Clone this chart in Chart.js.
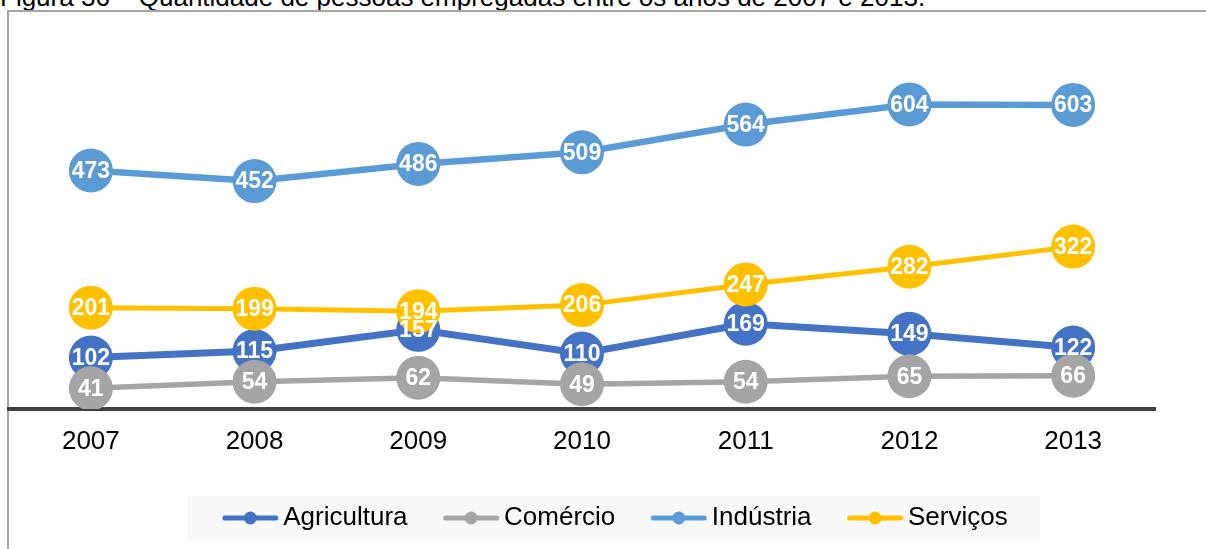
<!DOCTYPE html>
<html>
<head>
<meta charset="utf-8">
<script src="https://cdn.jsdelivr.net/npm/chart.js@4.4.0/dist/chart.umd.min.js"></script>
<style>
  html, body { margin: 0; padding: 0; background: #fff; overflow: hidden; }
  body { width: 1206px; height: 549px; position: relative; font-family: "Liberation Sans", Arial, sans-serif; }
  .caption { position: absolute; left: 0; top: -16px; font-size: 26px; line-height: 26px; color: #000; white-space: nowrap; }
  .frame { position: absolute; left: 7px; top: 10px; width: 1300px; height: 700px; border: 2px solid #a6a6a6; }
  #wrap { position: absolute; left: 0; top: 0; width: 1206px; height: 549px; }
</style>
</head>
<body>
<div class="caption">Figura 36 – Quantidade de pessoas empregadas entre os anos de 2007 e 2013.</div>
<div class="frame"></div>
<div id="wrap"><canvas id="lineChart" width="1206" height="549"></canvas></div>
<script>
// Pessoas empregadas por setor
const years = ['2007', '2008', '2009', '2010', '2011', '2012', '2013'];
const agricultura = [102, 115, 157, 110, 169, 149, 122];
const comercio = [41, 54, 62, 49, 54, 65, 66];
const industria = [473, 452, 486, 509, 564, 604, 603];
const servicos = [201, 199, 194, 206, 247, 282, 322];

const FONT = '"Liberation Sans", Arial, sans-serif';

// legend marker: short line with a dot in the middle
function legendMarker(color, lw) {
  const c = document.createElement('canvas');
  c.width = 57; c.height = 16;
  const g = c.getContext('2d');
  g.strokeStyle = color;
  g.lineWidth = lw;
  g.lineCap = 'round';
  g.beginPath();
  g.moveTo(3, 8); g.lineTo(54, 8);
  g.stroke();
  g.fillStyle = color;
  g.beginPath();
  g.arc(28.5, 8, 6.5, 0, Math.PI * 2);
  g.fill();
  return c;
}

function series(label, data, color, lw, order) {
  return {
    label: label,
    data: data,
    borderColor: color,
    backgroundColor: color,
    borderWidth: lw,
    pointStyle: 'circle',
    pointRadius: 22,
    pointHoverRadius: 22,
    pointBorderWidth: 0,
    pointBackgroundColor: color,
    tension: 0,
    order: order
  };
}

// white value inside each marker
const pointLabels = {
  id: 'pointLabels',
  afterDatasetsDraw(chart) {
    const ctx = chart.ctx;
    ctx.save();
    ctx.font = 'bold 23px ' + FONT;
    ctx.fillStyle = '#fff';
    ctx.textAlign = 'center';
    ctx.textBaseline = 'middle';
    chart.data.datasets.forEach((ds, i) => {
      chart.getDatasetMeta(i).data.forEach((pt, j) => {
        ctx.fillText(ds.data[j], pt.x, pt.y + 1);
      });
    });
    ctx.restore();
  }
};

// move the legend a bit to the right and give it a light box
const legendBox = {
  id: 'legendBox',
  afterLayout(chart) {
    chart.legend.left += 37;
    chart.legend.right += 37;
  },
  beforeDraw(chart) {
    const boxes = chart.legend.legendHitBoxes;
    if (!boxes || !boxes.length) return;
    const first = boxes[0], last = boxes[boxes.length - 1];
    const cy = first.top + first.height / 2;
    const ctx = chart.ctx;
    ctx.save();
    ctx.fillStyle = '#f8f8f8';
    ctx.fillRect(first.left - 43, cy - 22, last.left + last.width + 33 - (first.left - 43), 44);
    ctx.restore();
  }
};

new Chart(document.getElementById('lineChart').getContext('2d'), {
  type: 'line',
  data: {
    labels: years,
    datasets: [
      series('Agricultura', agricultura, '#4472c4', 7, 4),
      series('Comércio', comercio, '#a5a5a5', 5.5, 3),
      series('Indústria', industria, '#5b9bd5', 6.5, 2),
      series('Serviços', servicos, '#ffc000', 5, 1)
    ]
  },
  options: {
    responsive: false,
    animation: false,
    events: [],
    layout: { autoPadding: false, padding: { left: 9, right: 51, top: 56, bottom: 8 } },
    scales: {
      x: {
        z: 1,
        offset: true,
        grid: { display: false, drawTicks: false },
        border: { display: true, color: '#404040', width: 4 },
        ticks: { color: '#000', padding: 17, font: { family: FONT, size: 26 } },
        afterFit(scale) {
          scale.height = 52.5;
          scale.paddingLeft = 0;
          scale.paddingRight = 0;
        }
      },
      y: {
        display: false,
        min: 0,
        max: 700
      }
    },
    plugins: {
      tooltip: { enabled: false },
      legend: {
        position: 'bottom',
        labels: {
          usePointStyle: true,
          pointStyleWidth: 40,
          padding: 43.5,
          color: '#000',
          font: { family: FONT, size: 26 },
          sort: (a, b) => a.datasetIndex - b.datasetIndex,
          generateLabels(chart) {
            const items = Chart.defaults.plugins.legend.labels.generateLabels(chart);
            items.forEach(item => {
              const ds = chart.data.datasets[item.datasetIndex];
              item.pointStyle = legendMarker(ds.borderColor, 5);
            });
            return items;
          }
        }
      }
    }
  },
  plugins: [pointLabels, legendBox]
});
</script>
</body>
</html>
